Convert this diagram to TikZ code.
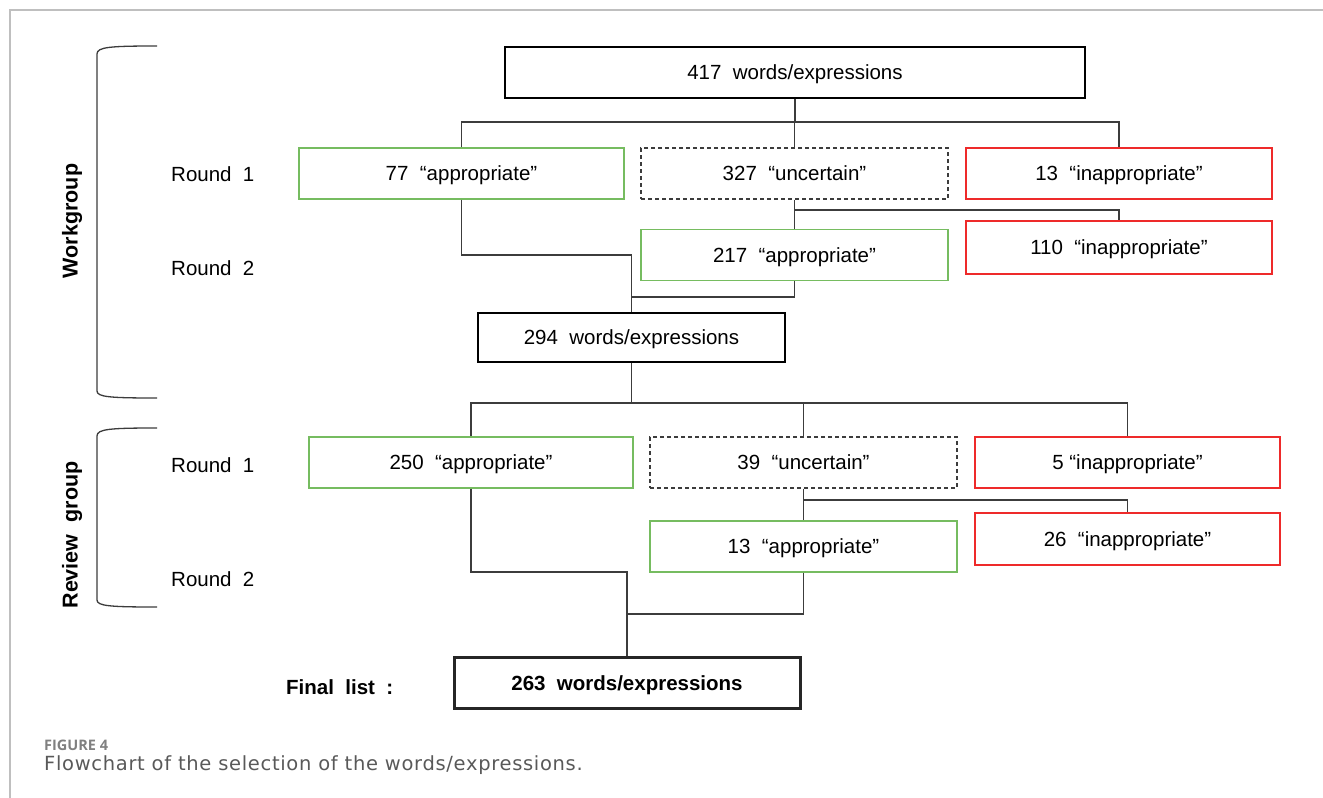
\documentclass[tikz,border=0pt]{standalone}
\usepackage{fontspec}
\setmainfont{Liberation Sans}
\newfontfamily\capfont{Open Sans}
\newfontfamily\captextfont[LetterSpace=3.5]{DejaVu Sans}
\usetikzlibrary{positioning}
\definecolor{okgreen}{RGB}{118,188,96}
\definecolor{nored}{RGB}{238,42,42}
\definecolor{linkgray}{RGB}{60,60,60}

\begin{document}
\begin{tikzpicture}[x=1pt,y=-1pt,
  box/.style={draw, line width=1.2pt, minimum width=307pt, minimum height=51pt,
    inner sep=0pt, text height=15pt, text depth=1pt, font=\fontsize{20.5}{24}\selectfont},
  okbox/.style={box, draw=okgreen},
  nobox/.style={box, draw=nored},
  unsure/.style={box, draw=linkgray, dash pattern=on 4pt off 3pt},
  link/.style={draw=linkgray, line width=1.3pt},
  brace/.style={draw=linkgray, line width=1.3pt},
  lbl/.style={anchor=west, inner sep=0pt, font=\fontsize{20.5}{24}\selectfont}]
\useasboundingbox (0,0) rectangle (1323,798);
\draw[black!25, line width=1.5pt] (1323,10) -- (10,10) -- (10,798);

% side labels
\node[rotate=90, inner sep=0pt, font=\fontsize{21.5}{24}\selectfont\bfseries] (wg) at (72,221) {Workgroup};
\node[rotate=90, inner sep=0pt, font=\fontsize{21.5}{24}\selectfont\bfseries] (rg) at (72,535) {Review~~group};
\draw[brace] (157,46) .. controls (110,46) and (97,47) .. (97,54) -- (97,391) .. controls (97,397) and (110,398) .. (157,398);
\draw[brace] (157,428) .. controls (110,428) and (97,429) .. (97,436) -- (97,600) .. controls (97,606) and (110,607) .. (157,607);
\node[lbl] (wr1) at (171,174) {Round~~1};
\node[lbl] (wr2) at (171,268) {Round~~2};
\node[lbl] (rr1) at (171,465) {Round~~1};
\node[lbl] (rr2) at (171,579) {Round~~2};

% workgroup
\node[box, minimum width=580pt] (top) at (795,72.5) {417~~words/expressions};
\node[okbox, minimum width=325pt] (app1) at (461.5,173.5) {77~~“appropriate”};
\node[unsure] (unc1) at (794.5,173.5) {327~~“uncertain”};
\node[nobox, minimum width=306pt] (inapp1) at (1119,173.5) {13~~“inappropriate”};
\node[okbox] (app2) at (794.5,255) {217~~“appropriate”};
\node[nobox, minimum width=306pt, minimum height=53pt] (inapp2) at (1119,247.5) {110~~“inappropriate”};
\node[box, minimum height=49pt] (mid) at (631.5,337.5) {294~~words/expressions};

\coordinate (b1) at (0,122);
\draw[link] (top.south) -- (top.south |- b1);
\draw[link] (app1.north) |- (inapp1.north |- b1) -- (inapp1.north);
\draw[link] (unc1.north) -- (unc1.north |- b1);
\coordinate (b2) at (0,210);
\draw[link] (unc1.south) -- (app2.north);
\draw[link] (unc1.south |- b2) -| (inapp2.north);
\coordinate (b3) at (0,255);
\coordinate (b4) at (0,297);
\draw[link] (app1.south) |- (mid.north |- b3) -- (mid.north);
\draw[link] (app2.south) |- (mid.north |- b4);

% review group
\node[okbox, minimum width=324pt] (app3) at (471,462.5) {250~~“appropriate”};
\node[unsure] (unc3) at (803.5,462.5) {39~~“uncertain”};
\node[nobox, minimum width=305pt] (inapp3) at (1127.5,462.5) {5~“inappropriate”};
\node[okbox] (app4) at (803.5,546.5) {13~~“appropriate”};
\node[nobox, minimum width=305pt, minimum height=52pt] (inapp4) at (1127.5,539) {26~~“inappropriate”};
\node[box, draw=black!85, line width=3pt, minimum width=346pt, minimum height=51pt,
  font=\fontsize{20.5}{24}\selectfont\bfseries] (final) at (627,683) {263~~words/expressions};
\node[lbl, font=\fontsize{20.5}{24}\selectfont\bfseries] (finlbl) at (286,687) {Final~~list~~:};

\coordinate (b5) at (0,403);
\draw[link] (mid.south) -- (mid.south |- b5);
\draw[link] (app3.north) |- (inapp3.north |- b5) -- (inapp3.north);
\draw[link] (unc3.north) -- (unc3.north |- b5);
\coordinate (b6) at (0,500);
\draw[link] (unc3.south) -- (app4.north);
\draw[link] (unc3.south |- b6) -| (inapp4.north);
\coordinate (b7) at (0,572);
\coordinate (b8) at (0,614);
\draw[link] (app3.south) |- (final.north |- b7) -- (final.north);
\draw[link] (app4.south) |- (final.north |- b8);

% caption
\node[anchor=base west, inner sep=0pt, text=black!50, font=\capfont\fontsize{14.5}{16}\selectfont\bfseries] (fig) at (44,750) {FIGURE 4};
\node[anchor=base west, inner sep=0pt, text=black!65, font=\captextfont\fontsize{19.5}{22}\selectfont] (capt) at (44,770) {Flowchart of the selection of the words/expressions.};
\end{tikzpicture}
\end{document}
